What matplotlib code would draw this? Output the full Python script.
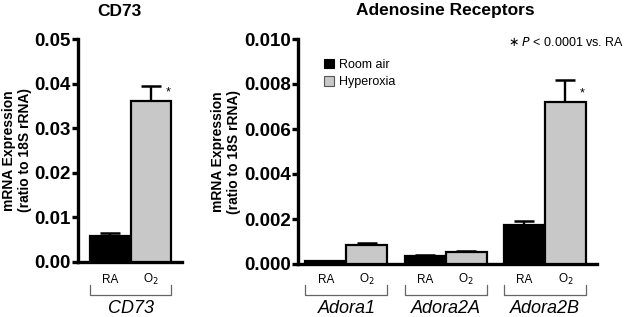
import matplotlib

matplotlib.use("Agg")
import matplotlib.pyplot as plt
from matplotlib.transforms import blended_transform_factory

plt.rcParams["font.family"] = ["Liberation Sans", "DejaVu Sans"]

# CD73 panel
cd73_conditions = ["RA", "O$_2$"]
cd73_means = [0.0058, 0.0361]
cd73_errs = [0.0007, 0.0034]

# Adenosine receptor panel
genes = ["Adora1", "Adora2A", "Adora2B"]
ra_means = [0.00012, 0.00037, 0.00173]
ra_errs = [0.00003, 0.00003, 0.00018]
o2_means = [0.00083, 0.00055, 0.00720]
o2_errs = [0.00009, 0.00005, 0.00098]

RA_COLOR = "black"
O2_COLOR = "#c8c8c8"
BRACKET = "#666666"

fig = plt.figure(figsize=(6.3, 3.17), dpi=100)
ax1 = fig.add_axes([78 / 630, 55 / 317, 104 / 630, 223 / 317])
ax2 = fig.add_axes([298 / 630, 53 / 317, 299 / 630, 225 / 317])


def style_axis(ax, ymax, step, fmt):
    ax.set_ylim(0, ymax)
    ticks = [i * step for i in range(int(round(ymax / step)) + 1)]
    ax.set_yticks(ticks)
    ax.set_yticklabels([fmt.format(t) for t in ticks], fontsize=13.5, fontweight="bold")
    ax.set_xticks([])
    for s in ("top", "right"):
        ax.spines[s].set_visible(False)
    for s in ("left", "bottom"):
        ax.spines[s].set_linewidth(2.4)
    ax.tick_params(axis="y", width=2.4, length=4, pad=1)
    ax.set_ylabel("mRNA Expression\n(ratio to 18S rRNA)", fontsize=10,
                  fontweight="bold", labelpad=2)


def draw_pair(ax, x0, means, errs, colors):
    for i, (m, e, c) in enumerate(zip(means, errs, colors)):
        ax.bar(x0 + i, m, width=1.0, color=c, edgecolor="black", lw=1.6, zorder=3)
        ax.errorbar(x0 + i, m, yerr=[[0], [e]], fmt="none", ecolor="black",
                    elinewidth=1.7, capsize=7, capthick=1.8, zorder=2)


def group_labels(ax, x0, name):
    tr = blended_transform_factory(ax.transData, fig.transFigure)
    for i, lab in enumerate(cd73_conditions):
        ax.text(x0 + i, 0.118, lab, transform=tr, ha="center", va="center",
                fontsize=8.5)
    left, right = x0 - 0.5, x0 + 1.5
    ax.plot([left, left, right, right], [0.102, 0.069, 0.069, 0.102],
            color=BRACKET, lw=0.9, transform=tr, clip_on=False)
    ax.text(x0 + 0.5, 0.028, name, transform=tr, ha="center", va="center",
            fontsize=13, style="italic")


def star(ax, x, y):
    ax.annotate("*", xy=(x + 0.42, y), xytext=(0, 2), textcoords="offset points",
                ha="center", va="bottom", fontsize=9)


# ---- CD73 ----
style_axis(ax1, 0.05, 0.01, "{:.2f}")
draw_pair(ax1, 0, cd73_means, cd73_errs, [RA_COLOR, O2_COLOR])
ax1.set_xlim(-0.80, 1.77)
group_labels(ax1, 0, "CD73")
star(ax1, 1, cd73_means[1])
fig.text(119 / 630, 1 - 11 / 317, "CD73", ha="center", va="center",
         fontsize=12.5, fontweight="bold")

# ---- Adenosine receptors ----
style_axis(ax2, 0.010, 0.002, "{:.3f}")
spacing = 2.42
for g, name in enumerate(genes):
    x0 = g * spacing
    draw_pair(ax2, x0, [ra_means[g], o2_means[g]], [ra_errs[g], o2_errs[g]],
              [RA_COLOR, O2_COLOR])
    group_labels(ax2, x0, name)
ax2.set_xlim(-0.68, 6.61)
star(ax2, 2 * spacing + 1, o2_means[2])
fig.text(445 / 630, 1 - 11 / 317, "Adenosine Receptors", ha="center", va="center",
         fontsize=12.5, fontweight="bold")

leg_h = [plt.Rectangle((0, 0), 1, 1, fc=RA_COLOR, ec="black", lw=0.8),
         plt.Rectangle((0, 0), 1, 1, fc=O2_COLOR, ec="#555555", lw=0.8)]
ax2.legend(leg_h, ["Room air", "Hyperoxia"], loc="upper left",
           bbox_to_anchor=(0.07, 0.935), frameon=False, fontsize=9,
           handlelength=0.8, handleheight=0.8, handletextpad=0.4,
           labelspacing=0.45, borderaxespad=0)
ax2.text(1.09, 0.985, "$\\ast$ $P$ < 0.0001 vs. RA", transform=ax2.transAxes,
         ha="right", va="center", fontsize=9)

fig.savefig("out.png", dpi=100)
